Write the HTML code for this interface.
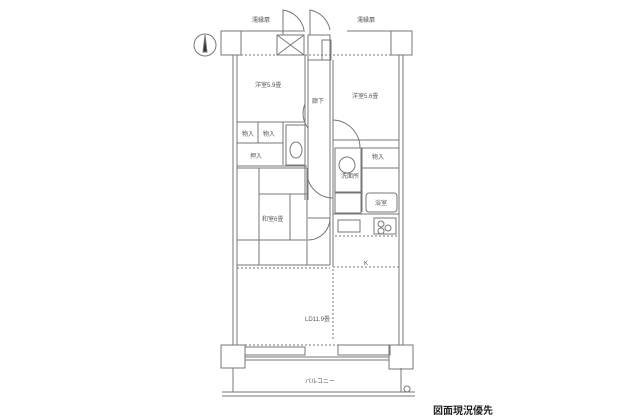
<!DOCTYPE html>
<html><head><meta charset="utf-8"><style>
html,body{margin:0;padding:0;background:#fff;}
svg{display:block}
text{font-family:"Liberation Sans","Noto Sans CJK JP",sans-serif;fill:#555}
</style></head><body>
<svg width="628" height="420" viewBox="0 0 628 420" xmlns="http://www.w3.org/2000/svg">
<g fill="none" stroke="#777" stroke-width="1">
<!-- north arrow -->
<circle cx="205" cy="45" r="11"/>
<path d="M205 35 L203 52 L207 52 Z" fill="#333"/>
<!-- top band -->
<rect x="221" y="31" width="20" height="24"/>
<rect x="391" y="31" width="21" height="24"/>
<line x1="241" y1="31" x2="305" y2="31"/>
<line x1="347" y1="31" x2="391" y2="31"/>
<rect x="277" y="35" width="27" height="20"/>
<line x1="277" y1="35" x2="304" y2="55"/><line x1="304" y1="35" x2="277" y2="55"/>
<rect x="308" y="35" width="22" height="25"/>
<rect x="322" y="40" width="9" height="20"/>
<!-- doors top -->
<path d="M283 35 L283 10 A25 25 0 0 1 304 30"/>
<path d="M310 35 L310 10 A25 25 0 0 1 330 30"/>
<!-- outer walls -->
<line x1="233" y1="55" x2="233" y2="345"/><line x1="237" y1="55" x2="237" y2="345"/>
<line x1="399" y1="55" x2="399" y2="345"/><line x1="403" y1="55" x2="403" y2="345"/>
<line x1="241" y1="55" x2="391" y2="55" stroke-dasharray="2 2"/>
<!-- bottom pillars / balcony -->
<rect x="221" y="345" width="24" height="23"/>
<rect x="389" y="345" width="24" height="24"/>
<line x1="245" y1="357" x2="389" y2="357"/>
<line x1="245" y1="360" x2="389" y2="360"/>
<line x1="233" y1="368" x2="233" y2="392"/>
<line x1="401" y1="368" x2="401" y2="392"/>
<line x1="222" y1="392" x2="415" y2="392"/>
<line x1="222" y1="396" x2="415" y2="396"/>
<circle cx="407" cy="389" r="3"/>
<!-- corridor -->
<line x1="305" y1="55" x2="305" y2="200"/><line x1="308" y1="60" x2="308" y2="200"/>
<line x1="330" y1="60" x2="330" y2="265"/><line x1="333" y1="60" x2="333" y2="265"/>
<!-- left rooms -->
<line x1="237" y1="122" x2="305" y2="122"/>
<line x1="237" y1="143" x2="283" y2="143"/>
<line x1="258" y1="122" x2="258" y2="143"/>
<line x1="283" y1="122" x2="283" y2="165"/>
<rect x="286" y="125" width="19" height="40"/>
<ellipse cx="296" cy="150" rx="6" ry="8"/>
<line x1="237" y1="166" x2="307" y2="166"/>
<line x1="237" y1="168" x2="307" y2="168"/>
<!-- tatami -->
<line x1="259" y1="168" x2="259" y2="265"/>
<line x1="259" y1="194" x2="307" y2="194"/>
<line x1="290" y1="194" x2="290" y2="240"/>
<line x1="237" y1="240" x2="307" y2="240"/>
<line x1="307" y1="168" x2="307" y2="265"/>
<line x1="237" y1="265" x2="330" y2="265"/>
<line x1="237" y1="268" x2="330" y2="268" stroke-dasharray="2 2"/>
<path d="M308 218 L330 218 M308 240 A22 22 0 0 0 330 218"/>
<path d="M308 128 A24 24 0 0 1 305 104"/>
<!-- right rooms -->
<line x1="333" y1="140" x2="399" y2="140"/>
<path d="M333 120 A28 28 0 0 1 360 148"/>
<rect x="335" y="148" width="26" height="44"/>
<circle cx="347" cy="165" r="8"/>
<rect x="362" y="148" width="37" height="20"/>
<line x1="362" y1="168" x2="362" y2="212"/>
<path d="M333 198 A26 26 0 0 1 307 172"/>
<rect x="366" y="193" width="31" height="19" rx="3"/>
<rect x="335" y="193" width="26" height="20"/>
<line x1="333" y1="214" x2="399" y2="214"/>
<rect x="338" y="220" width="22" height="12"/>
<rect x="374" y="218" width="22" height="16"/>
<circle cx="381" cy="224" r="3"/><circle cx="388" cy="228" r="3"/><circle cx="381" cy="231" r="3"/>
<line x1="335" y1="236" x2="399" y2="236" stroke-dasharray="2 2"/>
<line x1="333" y1="267" x2="399" y2="267" stroke-dasharray="2 2"/>
<line x1="333" y1="265" x2="333" y2="340" stroke-dasharray="2 2"/>
<!-- LD -->
<line x1="237" y1="345" x2="399" y2="345" stroke-dasharray="2 2"/>
<rect x="245" y="347" width="60" height="8"/>
<rect x="338" y="345" width="52" height="10"/>
</g>
<g font-size="6">
<text x="252" y="22">濡縁扉</text>
<text x="357" y="22">濡縁扉</text>
<text x="255" y="87">洋室5.9畳</text>
<text x="352" y="98">洋室5.6畳</text>
<text x="312" y="103">廊下</text>
<text x="242" y="136">物入</text>
<text x="263" y="136">物入</text>
<text x="250" y="158">押入</text>
<text x="262" y="221">和室6畳</text>
<text x="341" y="178">洗面所</text>
<text x="372" y="159">物入</text>
<text x="375" y="205">浴室</text>
<text x="364" y="265">K</text>
<text x="305" y="321">LD11.9畳</text>
<text x="305" y="383">バルコニー</text>
</g>
<text x="433" y="414" font-size="10" font-weight="bold" style="fill:#222">図面現況優先</text>
</svg>
</body></html>
